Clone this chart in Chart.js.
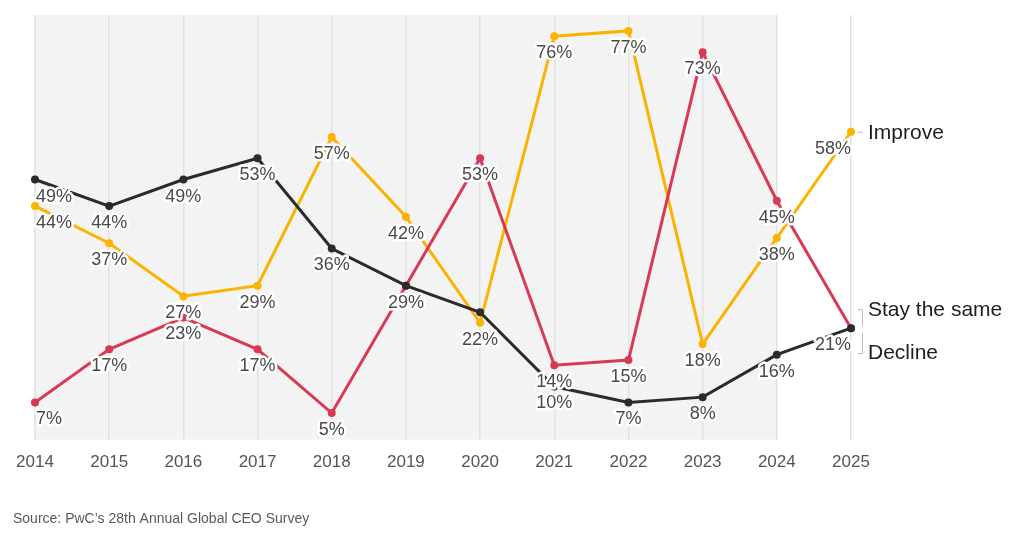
<!DOCTYPE html>
<html>
<head>
<meta charset="utf-8">
<script src="https://cdn.jsdelivr.net/npm/chart.js@4/dist/chart.umd.min.js"></script>
<style>
  html, body { margin: 0; padding: 0; background: #ffffff; }
  #wrap { width: 1024px; height: 535px; position: relative; }
</style>
</head>
<body>
<div id="wrap"><canvas id="c" width="1024" height="535"></canvas></div>
<script>
const years = ['2014','2015','2016','2017','2018','2019','2020','2021','2022','2023','2024','2025'];
const improve     = [44, 37, 27, 29, 57, 42, 22, 76, 77, 18, 38, 58];
const stayTheSame = [49, 44, 49, 53, 36, 29, 24, 10,  7,  8, 16, 21];
const decline     = [ 7, 17, 23, 17,  5, 29, 53, 14, 15, 73, 45, 21];
const seriesNames = ['Improve', 'Stay the same', 'Decline'];
const shadedUntil = '2024';
const sourceText = 'Source: PwC\u2019s 28th Annual Global CEO Survey';

const FONT = '"Liberation Sans", Arial, Helvetica, sans-serif';
const COLORS = { improve: '#FBB300', stay: '#2B2B2B', decline: '#D83A55' };

const bgPlugin = {
  id: 'bgBand',
  beforeDraw(chart) {
    const { ctx, chartArea, scales } = chart;
    const x0 = scales.x.getPixelForValue(0);
    const x1 = scales.x.getPixelForValue(years.indexOf(shadedUntil));
    ctx.save();
    ctx.fillStyle = '#ffffff';
    ctx.fillRect(0, 0, chart.width, chart.height);
    ctx.fillStyle = '#F3F3F3';
    ctx.fillRect(x0, chartArea.top, x1 - x0, chartArea.bottom - chartArea.top);
    ctx.restore();
  }
};

const labelPlugin = {
  id: 'valueLabels',
  afterDatasetsDraw(chart) {
    const { ctx } = chart;
    ctx.save();
    ctx.font = '18px ' + FONT;
    ctx.textBaseline = 'middle';
    ctx.lineJoin = 'round';
    const placed = [];
    // label priority: Improve, Decline, Stay the same
    const orderIdx = [0, 2, 1];
    const n = years.length;
    orderIdx.forEach(di => {
      const meta = chart.getDatasetMeta(di);
      const data = chart.data.datasets[di].data;
      meta.data.forEach((pt, i) => {
        const x = pt.x, y = pt.y + 17;
        if (placed.some(p => Math.abs(p.x - x) < 30 && Math.abs(p.y - y) < 14)) return;
        placed.push({ x, y });
        const txt = data[i] + '%';
        ctx.textAlign = i === 0 ? 'left' : (i === n - 1 ? 'right' : 'center');
        const tx = i === 0 ? x + 1 : x;
        ctx.lineWidth = 5;
        ctx.strokeStyle = '#ffffff';
        ctx.strokeText(txt, tx, y);
        ctx.fillStyle = '#4A4A4A';
        ctx.fillText(txt, tx, y);
      });
    });

    // series names at right
    const last = n - 1;
    const pImp = chart.getDatasetMeta(0).data[last];
    const pStay = chart.getDatasetMeta(1).data[last];
    const xr = chart.chartArea.right;
    ctx.strokeStyle = '#BDBDBD';
    ctx.lineWidth = 1;
    ctx.beginPath();
    ctx.moveTo(xr + 6, pImp.y + 0.5); ctx.lineTo(xr + 12, pImp.y + 0.5);
    // upper bracket
    ctx.moveTo(xr + 7, pStay.y - 18.5); ctx.lineTo(xr + 11.5, pStay.y - 18.5);
    ctx.lineTo(xr + 11.5, pStay.y - 2);
    // lower bracket
    ctx.moveTo(xr + 11.5, pStay.y + 5); ctx.lineTo(xr + 11.5, pStay.y + 25.5);
    ctx.lineTo(xr + 7, pStay.y + 25.5);
    ctx.stroke();

    ctx.font = '21px ' + FONT;
    ctx.textAlign = 'left';
    ctx.fillStyle = '#1E1E1E';
    ctx.fillText(seriesNames[0], xr + 17, pImp.y + 1);
    ctx.fillText(seriesNames[1], xr + 17, pStay.y - 18);
    ctx.fillText(seriesNames[2], xr + 17, pStay.y + 25);

    // source
    ctx.font = '14px ' + FONT;
    ctx.fillStyle = '#5A5A5A';
    ctx.fillText(sourceText, 13, 519);
    ctx.restore();
  }
};

const common = { borderWidth: 3, pointRadius: 4, pointHoverRadius: 4, pointBorderWidth: 0, tension: 0, fill: false };

new Chart(document.getElementById('c'), {
  type: 'line',
  data: {
    labels: years,
    datasets: [
      Object.assign({ label: seriesNames[0], data: improve, borderColor: COLORS.improve, backgroundColor: COLORS.improve, pointBackgroundColor: COLORS.improve, order: 2 }, common),
      Object.assign({ label: seriesNames[1], data: stayTheSame, borderColor: COLORS.stay, backgroundColor: COLORS.stay, pointBackgroundColor: COLORS.stay, order: 0 }, common),
      Object.assign({ label: seriesNames[2], data: decline, borderColor: COLORS.decline, backgroundColor: COLORS.decline, pointBackgroundColor: COLORS.decline, order: 1 }, common)
    ]
  },
  options: {
    responsive: false,
    animation: false,
    events: [],
    layout: { padding: { left: 35, right: 173, top: 15, bottom: 49 } },
    plugins: { legend: { display: false }, tooltip: { enabled: false } },
    scales: {
      x: {
        offset: false,
        border: { display: false },
        grid: { color: '#E2E2E2', lineWidth: 1.5, drawTicks: false },
        ticks: { color: '#555555', font: { family: FONT, size: 17 }, padding: 13, maxRotation: 0, autoSkip: false }
      },
      y: {
        display: false,
        min: 0,
        max: 80
      }
    }
  },
  plugins: [bgPlugin, labelPlugin]
});
</script>
</body>
</html>
